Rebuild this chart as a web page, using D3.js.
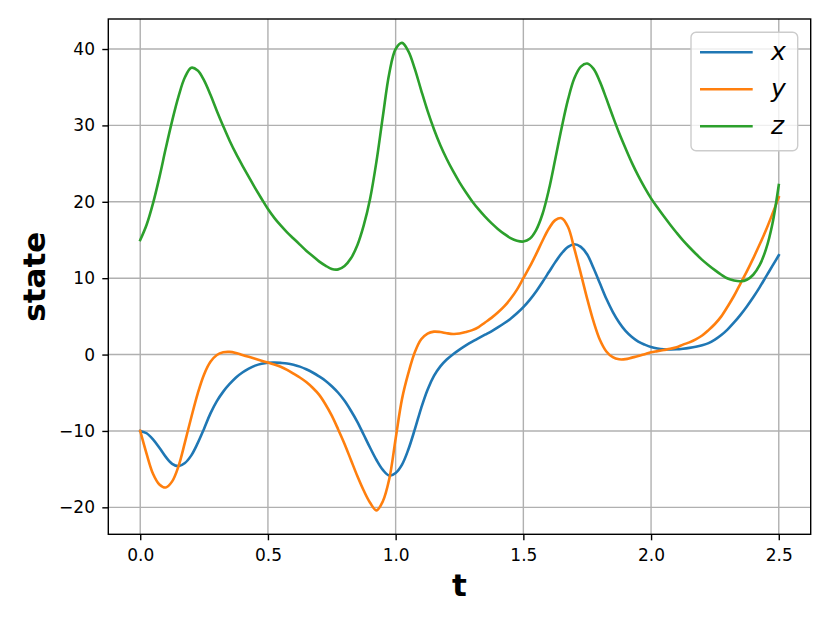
<!DOCTYPE html>
<html>
<head>
<meta charset="utf-8">
<script src="https://cdn.jsdelivr.net/npm/d3@7"></script>
<style>
  body { margin: 0; background: #ffffff; }
  #chart { width: 830px; height: 623px; }
  .tick text { font-family: "DejaVu Sans", sans-serif; font-size: 17px; fill: #000; }
</style>
</head>
<body>
<div id="chart"></div>
<script>

// sample times (every 0.025)
var tValues = [
  0.000, 0.025, 0.050, 0.075, 0.100, 0.125, 0.150, 0.175, 0.200, 0.225,
  0.250, 0.275, 0.300, 0.325, 0.350, 0.375, 0.400, 0.425, 0.450, 0.475,
  0.500, 0.525, 0.550, 0.575, 0.600, 0.625, 0.650, 0.675, 0.700, 0.725,
  0.750, 0.775, 0.800, 0.825, 0.850, 0.875, 0.900, 0.925, 0.950, 0.975,
  1.000, 1.025, 1.050, 1.075, 1.100, 1.125, 1.150, 1.175, 1.200, 1.225,
  1.250, 1.275, 1.300, 1.325, 1.350, 1.375, 1.400, 1.425, 1.450, 1.475,
  1.500, 1.525, 1.550, 1.575, 1.600, 1.625, 1.650, 1.675, 1.700, 1.725,
  1.750, 1.775, 1.800, 1.825, 1.850, 1.875, 1.900, 1.925, 1.950, 1.975,
  2.000, 2.025, 2.050, 2.075, 2.100, 2.125, 2.150, 2.175, 2.200, 2.225,
  2.250, 2.275, 2.300, 2.325, 2.350, 2.375, 2.400, 2.425, 2.450, 2.475,
  2.500
];

var xValues = [
  -10.0, -10.3, -11.1, -12.2, -13.4, -14.3, -14.6, -14.2, -13.2, -11.6,
  -9.7, -7.7, -6.1, -4.85, -3.85, -3.0, -2.35, -1.85, -1.45, -1.2,
  -1.07, -1.05, -1.09, -1.16, -1.33, -1.58, -1.93, -2.35, -2.85, -3.42,
  -4.15, -5.0, -6.05, -7.35, -8.8, -10.5, -12.2, -13.8, -15.1, -15.85,
  -15.5, -14.4, -12.4, -9.8, -7.0, -4.6, -2.8, -1.55, -0.65, 0.05,
  0.65, 1.2, 1.7, 2.15, 2.6, 3.05, 3.55, 4.1, 4.7, 5.4,
  6.2, 7.15, 8.25, 9.5, 10.8, 12.1, 13.25, 14.1, 14.45, 14.1,
  13.1, 11.3, 9.3, 7.3, 5.6, 4.2, 3.1, 2.3, 1.7, 1.3,
  0.98, 0.8, 0.7, 0.67, 0.69, 0.77, 0.88, 1.02, 1.22, 1.5,
  1.95, 2.55, 3.3, 4.2, 5.2, 6.3, 7.5, 8.8, 10.2, 11.6,
  13.0
];

var yValues = [
  -10.0, -13.0, -15.6, -17.0, -17.4, -16.6, -14.6, -11.5, -8.2, -5.1,
  -2.6, -0.95, -0.05, 0.3, 0.35, 0.2, -0.05, -0.3, -0.55, -0.8,
  -1.05, -1.3, -1.6, -2.0, -2.5, -3.0, -3.6, -4.35, -5.25, -6.5,
  -8.0, -9.8, -11.7, -13.8, -15.9, -17.8, -19.4, -20.4, -19.2, -16.3,
  -11.0, -5.8, -2.4, 0.3, 2.0, 2.75, 3.0, 2.95, 2.8, 2.7,
  2.75, 2.95, 3.2, 3.6, 4.2, 4.8, 5.5, 6.3, 7.3, 8.5,
  10.0, 11.5, 13.15, 14.9, 16.5, 17.6, 17.85, 16.7, 13.8, 10.6,
  7.3, 4.3, 1.9, 0.4, -0.35, -0.62, -0.6, -0.4, -0.2, 0.05,
  0.3, 0.45, 0.6, 0.75, 0.95, 1.3, 1.6, 2.0, 2.5, 3.2,
  4.0, 5.0, 6.3, 7.7, 9.3, 10.9, 12.6, 14.4, 16.3, 18.4,
  20.6
];

var zValues = [
  15.0, 17.0, 19.8, 23.2, 27.0, 30.6, 33.8, 36.3, 37.55, 37.2,
  35.9, 34.0, 31.9, 29.9, 28.0, 26.3, 24.75, 23.25, 21.8, 20.4,
  19.05, 17.9, 16.9, 16.0, 15.2, 14.4, 13.6, 12.9, 12.2, 11.65,
  11.2, 11.15, 11.6, 12.6, 14.3, 16.9, 20.4, 25.3, 31.2, 36.8,
  40.0, 40.8, 39.7, 37.4, 34.6, 31.9, 29.5, 27.4, 25.6, 24.0,
  22.55, 21.25, 20.05, 19.0, 18.05, 17.2, 16.45, 15.8, 15.25, 14.9,
  14.8, 15.15, 16.3, 18.4, 21.6, 25.6, 29.7, 33.4, 36.2, 37.7,
  38.1, 37.4, 35.7, 33.5, 31.2, 29.0, 27.0, 25.1, 23.4, 21.85,
  20.45, 19.25, 18.1, 17.0, 15.95, 14.95, 14.05, 13.2, 12.4, 11.7,
  11.05, 10.45, 9.95, 9.7, 9.6, 9.8, 10.45, 11.7, 13.8, 17.1,
  22.2
];

var seriesNames = ["x", "y", "z"];
var seriesColors = ["#1f77b4", "#ff7f0e", "#2ca02c"];
var xTicks = [0.0, 0.5, 1.0, 1.5, 2.0, 2.5];
var yTicks = [-20, -10, 0, 10, 20, 30, 40];

// plot box measured on the reference
var margin = { top: 19, right: 19.3, bottom: 88.7, left: 108.3 },
  width = 830 - margin.left - margin.right,
  height = 623 - margin.top - margin.bottom;

var svg = d3.select("#chart")
  .append("svg")
  .attr("width", 830)
  .attr("height", 623)
  .append("g")
  .attr("transform", "translate(" + margin.left + "," + margin.top + ")");

var x = d3.scaleLinear()
  .domain([-0.125, 2.625])
  .range([0, width]);

var y = d3.scaleLinear()
  .domain([-23.53, 43.93])
  .range([height, 0]);

// grid
svg.append("g")
  .selectAll("line")
  .data(xTicks)
  .enter()
  .append("line")
  .attr("x1", function (d) { return x(d); })
  .attr("x2", function (d) { return x(d); })
  .attr("y1", 0)
  .attr("y2", height)
  .attr("stroke", "#b0b0b0")
  .attr("stroke-width", 1.4);

svg.append("g")
  .selectAll("line")
  .data(yTicks)
  .enter()
  .append("line")
  .attr("x1", 0)
  .attr("x2", width)
  .attr("y1", function (d) { return y(d); })
  .attr("y2", function (d) { return y(d); })
  .attr("stroke", "#b0b0b0")
  .attr("stroke-width", 1.4);

// the three lines
var allSeries = [xValues, yValues, zValues];

var line = d3.line()
  .curve(d3.curveCatmullRom.alpha(0.5))
  .x(function (d, i) { return x(tValues[i]); })
  .y(function (d) { return y(d); });

svg.append("g")
  .selectAll("path")
  .data(allSeries)
  .enter()
  .append("path")
  .attr("fill", "none")
  .attr("stroke", function (d, i) { return seriesColors[i]; })
  .attr("stroke-width", 2.6)
  .attr("stroke-linejoin", "round")
  .attr("stroke-linecap", "square")
  .attr("d", line);

// axes
var fmtX = function (d) { return d.toFixed(1); };
var fmtY = function (d) { return d < 0 ? "\u2212" + Math.abs(d) : String(d); };

var xAxis = svg.append("g")
  .attr("transform", "translate(0," + height + ")")
  .call(d3.axisBottom(x).tickValues(xTicks).tickFormat(fmtX).tickSize(6).tickPadding(9).tickSizeOuter(0));

var yAxis = svg.append("g")
  .call(d3.axisLeft(y).tickValues(yTicks).tickFormat(fmtY).tickSize(6).tickPadding(7.3).tickSizeOuter(0));

[xAxis, yAxis].forEach(function (a) {
  a.select(".domain").remove();
  a.selectAll(".tick line").attr("stroke", "#000").attr("stroke-width", 1.4);
  a.attr("font-family", null).attr("font-size", null);
});

// frame
svg.append("rect")
  .attr("x", 0)
  .attr("y", 0)
  .attr("width", width)
  .attr("height", height)
  .attr("fill", "none")
  .attr("stroke", "#000")
  .attr("stroke-width", 1.4);

// axis titles
svg.append("text")
  .attr("x", width / 2)
  .attr("y", 596 - margin.top)
  .attr("text-anchor", "middle")
  .style("font-family", "DejaVu Sans, sans-serif")
  .style("font-weight", "bold")
  .style("font-size", "31px")
  .text("t");

svg.append("text")
  .attr("transform", "translate(" + (45 - margin.left) + "," + (height / 2) + ") rotate(-90)")
  .attr("text-anchor", "middle")
  .style("font-family", "DejaVu Sans, sans-serif")
  .style("font-weight", "bold")
  .style("font-size", "31px")
  .text("state");

// legend
var legend = svg.append("g")
  .attr("transform", "translate(" + (691 - margin.left) + "," + (32.3 - margin.top) + ")");

legend.append("rect")
  .attr("width", 106.7)
  .attr("height", 118.4)
  .attr("rx", 5)
  .attr("fill", "#ffffff")
  .attr("fill-opacity", 0.8)
  .attr("stroke", "#cccccc")
  .attr("stroke-width", 1.4);

var rows = legend.selectAll(".row")
  .data(seriesNames)
  .enter()
  .append("g")
  .attr("class", "row")
  .attr("transform", function (d, i) { return "translate(0," + (20 + i * 37) + ")"; });

rows.append("line")
  .attr("x1", 9)
  .attr("x2", 61.7)
  .attr("stroke", function (d, i) { return seriesColors[i]; })
  .attr("stroke-width", 2.6);

rows.append("text")
  .attr("x", 80)
  .attr("y", 8)
  .style("font-family", "DejaVu Sans, sans-serif")
  .style("font-style", "italic")
  .style("font-size", "25px")
  .text(function (d) { return d; });

</script>
</body>
</html>
